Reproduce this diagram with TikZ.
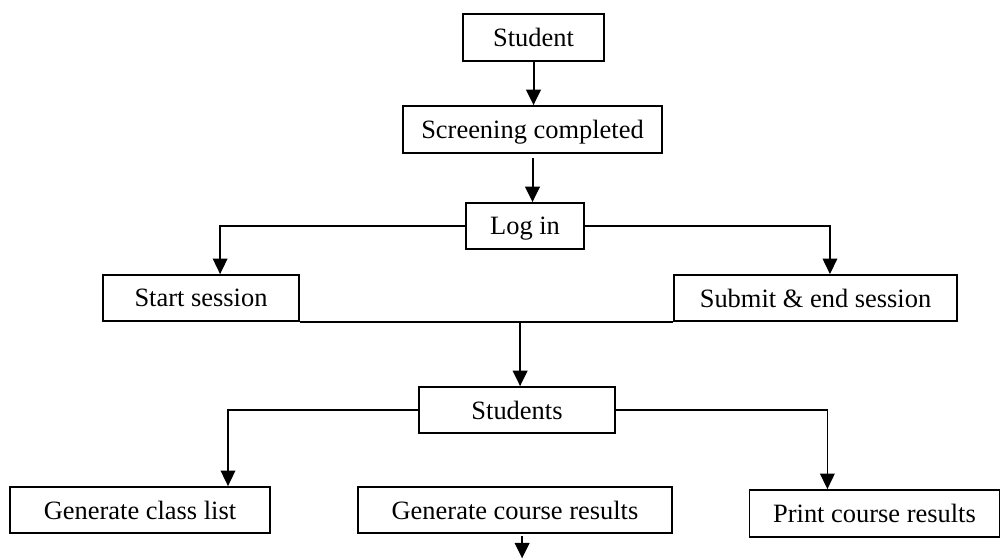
\documentclass[tikz,border=0pt]{standalone}
\usepackage{fontspec}
\setmainfont{Liberation Serif}
\usetikzlibrary{arrows.meta}

\begin{document}
\begin{tikzpicture}[x=0.45pt,y=-0.45pt,
    link/.style={line width=0.6pt},
    arr/.style={link,-{Triangle[length=7pt,width=6.6pt]}}]

      \useasboundingbox (0,0) rectangle (1001,559);

      \begin{scope}[every node/.style={draw,rectangle,line width=0.8pt,inner sep=0pt,
          minimum height=20.7pt,text depth=0pt,font=\fontsize{11.9}{14}\selectfont}]
        \node[minimum width=63.45pt,minimum height=21.15pt] (student)  at (533.5,37.5) {Student};
        \node[minimum width=116.55pt,minimum height=21.15pt] (screen)  at (532.5,129.5) {Screening completed};
        \node[minimum width=53.1pt] (login)     at (525,226) {Log in};
        \node[minimum width=88.2pt] (start)     at (201,298) {Start session};
        \node[minimum width=127.35pt] (submit)  at (815.5,298) {Submit \& end session};
        \node[minimum width=88.2pt] (students)  at (517,410) {Students};
        \node[minimum width=117pt] (classlist)  at (140,510) {Generate class list};
        \node[minimum width=141.3pt] (courseres) at (515,510) {Generate course results};
        \node[minimum width=112.5pt,minimum height=21.15pt] (print) at (874.5,513.5) {Print course results};
      \end{scope}

      \coordinate (resend) at ([yshift=-11pt]courseres.south);

      \begin{scope}[line width=0.9pt]
        \draw[arr,line width=0.9pt] (student.south) -- (student.south |- screen.north);
        \draw[arr,line width=0.9pt] ([yshift=-2pt]screen.south) -- (screen.south |- login.north);
        \draw[arr] (login.west) -| ([xshift=8.6pt]start.north);
        \draw[arr] (login.east) -| ([xshift=6.5pt]submit.north);
        \draw[link] (start.south east) -- (submit.south west);
        \draw[arr,line width=0.9pt] ([xshift=1.4pt]students.north |- start.south) -- ([xshift=1.4pt]students.north);
        \draw[arr] (students.west) -| ([xshift=39.6pt]classlist.north);
        \draw[arr] (students.east) -| ([xshift=-21.2pt]print.north);
        \draw[arr,line width=0.9pt] ([xshift=3.2pt,yshift=-1pt]courseres.south) -- ([xshift=3.2pt]resend);
      \end{scope}

    \end{tikzpicture}
\end{document}
